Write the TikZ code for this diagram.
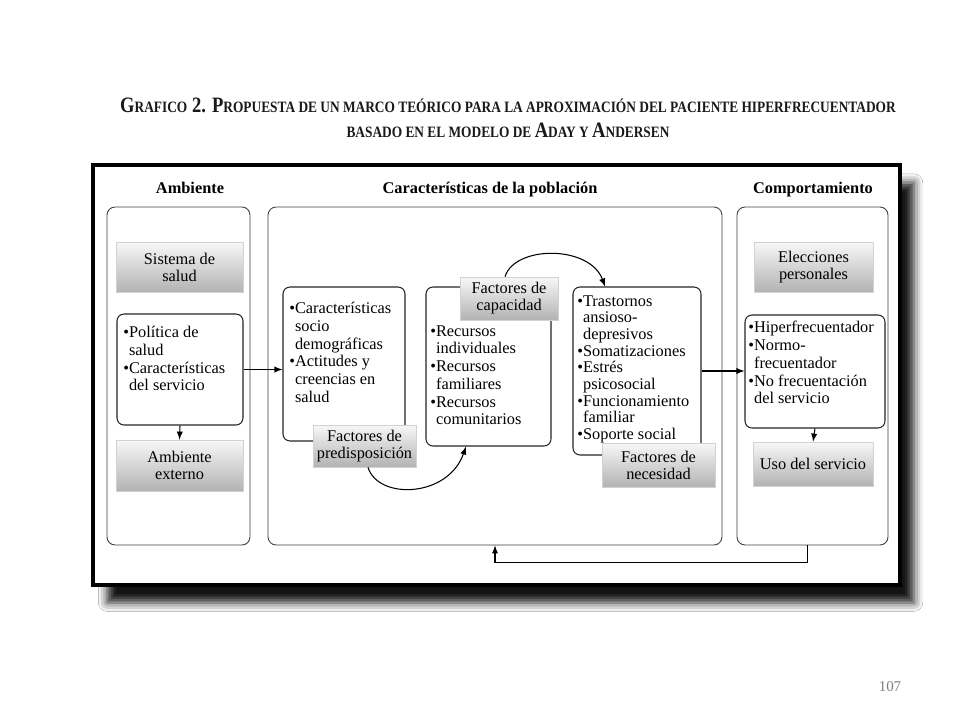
\documentclass[tikz,border=0pt]{standalone}
\usepackage{fontspec}
\setmainfont{Liberation Serif}
\usetikzlibrary{arrows,calc,positioning,shadows,shadows.blur}

\newcommand{\bodyfont}{\fontsize{9.3}{10.1}\selectfont}
\newcommand{\smc}[1]{{\fontsize{9}{10}\selectfont #1}}
\newcommand{\ind}{\hphantom{\textbullet}}

\tikzset{
	panel/.style={draw=black!75, line width=0.5pt, rounded corners=0.16cm, fill=white, minimum height=6.76cm},
	gbox/.style={draw=gray!35, top color=gray!6, bottom color=gray!60, align=center, font=\fontsize{9.3}{9.6}\selectfont, inner sep=0pt},
	rbox/.style={draw=black!85, line width=0.6pt, rounded corners=0.14cm, fill=white},
	listtext/.style={anchor=north west, align=left, inner sep=0pt, font=\bodyfont},
	head/.style={font=\bodyfont\bfseries, anchor=base},
	titletext/.style={font=\fontsize{12.5}{14}\selectfont\bfseries, text=black!90},
	conn/.style={-latex, line width=0.6pt},
}

\begin{document}
\begin{tikzpicture}[x=0.02cm, y=-0.02cm]
	\useasboundingbox (0,0) rectangle (960,720);
	\fill [white] (0,0) rectangle (960,720);

	% Title
	\node [titletext] (title1) at (508,105) {\scalebox{0.845}[1]{G\smc{RAFICO} 2. P\smc{ROPUESTA DE UN MARCO TEÓRICO PARA LA APROXIMACIÓN DEL PACIENTE HIPERFRECUENTADOR}}};
	\node [titletext] (title2) at (508,130) {\scalebox{0.845}[1]{\smc{BASADO EN EL MODELO DE }A\smc{DAY Y }A\smc{NDERSEN}}};

	% Frame
	\node [draw, line width=2.3pt, fill=white, inner sep=0pt, minimum width=16.14cm, minimum height=8.4cm,
		blur shadow={shadow xshift=8pt, shadow yshift=-10pt, shadow blur radius=5pt, shadow opacity=92}] (frame) at (496.5,375) {};

	% Place nodes
	\node [head] (envhead) at (190,193) {Ambiente};
	\node [head] (pophead) at (490,193) {Características de la población};
	\node [head] (behhead) at (813,193) {Comportamiento};

	\node [panel, minimum width=2.86cm] (envpanel) at (178.5,376) {};
	\node [panel, minimum width=9.08cm] (poppanel) at (495,376) {};
	\node [panel, minimum width=3.02cm] (behpanel) at (812.5,376) {};

	\node [gbox, minimum width=2.54cm, minimum height=1cm] (sistema) at (179.5,267) {Sistema de\\salud};
	\node [rbox, minimum width=2.52cm, minimum height=2.22cm] (politica) at (180,369.5) {};
	\node [listtext] (politicatxt) at (123,326) {\textbullet Política de\\\ind salud\\\textbullet Características\\\ind del servicio};
	\node [gbox, minimum width=2.54cm, minimum height=1.02cm] (externo) at (179.5,465.5) {Ambiente\\externo};

	\node [rbox, minimum width=2.44cm, minimum height=3.08cm] (socio) at (344,364) {};
	\node [listtext] (sociotxt) at (289,302) {\textbullet Características\\\ind socio\\\ind demográficas\\\textbullet Actitudes y\\\ind creencias en\\\ind salud};
	\node [rbox, minimum width=2.5cm, minimum height=3.18cm] (recursos) at (488.5,366.5) {};
	\node [listtext] (recursostxt) at (430,325) {\textbullet Recursos\\\ind individuales\\\textbullet Recursos\\\ind familiares\\\textbullet Recursos\\\ind comunitarios};
	\node [rbox, minimum width=2.56cm, minimum height=3.36cm] (trastornos) at (637,371) {};
	\node [listtext, font=\fontsize{9.3}{9.5}\selectfont] (trastornostxt) at (577,295) {\textbullet Trastornos\\\ind ansioso-\\\ind depresivos\\\textbullet Somatizaciones\\\textbullet Estrés\\\ind psicosocial\\\textbullet Funcionamiento\\\ind familiar\\\textbullet Soporte social};

	\node [gbox, minimum width=2.06cm, minimum height=0.84cm] (predisp) at (364.5,446) {Factores de\\predisposición};
	\node [gbox, minimum width=1.96cm, minimum height=0.86cm] (capacidad) at (509,298.5) {Factores de\\capacidad};
	\node [gbox, minimum width=2.26cm, minimum height=0.88cm] (necesidad) at (658.5,465) {Factores de\\necesidad};

	\node [gbox, minimum width=2.38cm, minimum height=1cm] (elecciones) at (813.5,267) {Elecciones\\personales};
	\node [rbox, minimum width=2.8cm, minimum height=2.26cm] (hiper) at (815,371.5) {};
	\node [listtext] (hipertxt) at (748,321) {\textbullet Hiperfrecuentador\\\textbullet Normo-\\\ind frecuentador\\\textbullet No frecuentación\\\ind del servicio};
	\node [gbox, minimum width=2.4cm, minimum height=0.88cm] (uso) at (813,464) {Uso del servicio};

	\node [text=gray, font=\fontsize{8.5}{9}\selectfont] (pagenum) at (890,687) {107};

	% Draw edges
	\draw [conn] (politica.east) -- (politica.east -| socio.west);
	\draw [conn] (politica.south) -- (externo.north);
	\draw [conn] (trastornos.east) -- (trastornos.east -| hiper.west);
	\draw [conn] (hiper.south) -- (uso.north);
	\draw [conn] ([xshift=0.07cm]predisp.south) .. controls (378,500) and (448,498) .. ([xshift=-0.45cm]recursos.south);
	\draw [conn] ([xshift=-0.08cm]capacidad.north) .. controls (515,245) and (590,245) .. ([xshift=-0.64cm]trastornos.north);
	\draw [conn] ([xshift=-0.1cm]behpanel.south) -- ++(0,17) -| (poppanel.south);
\end{tikzpicture}
\end{document}
